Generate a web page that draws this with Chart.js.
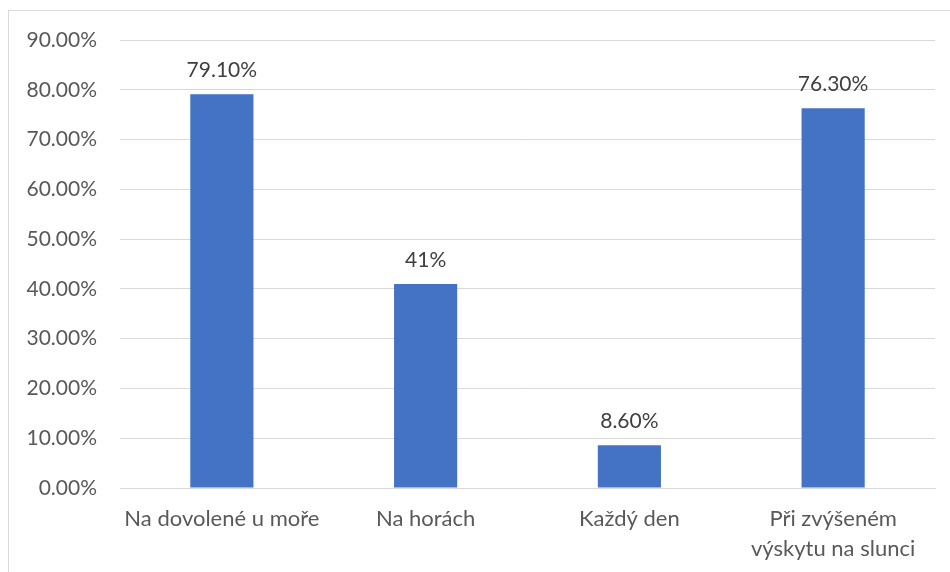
<!DOCTYPE html>
<html>
<head>
<meta charset="utf-8">
<script src="https://cdn.jsdelivr.net/npm/chart.js@4"></script>
<style>
html,body{margin:0;padding:0;background:#fff;}
#wrap{position:relative;width:950px;height:572px;}
#frame{position:absolute;left:8px;top:10px;right:0;bottom:0;border-left:1px solid #d9d9d9;border-top:1px solid #d9d9d9;}
canvas{position:absolute;left:0;top:0;}
</style>
</head>
<body>
<div id="wrap"><div id="frame"></div><canvas id="c" width="950" height="572"></canvas></div>
<script>
const categories = ["Na dovolené u moře", "Na horách", "Každý den", ["Při zvýšeném", "výskytu na slunci"]];
const values = [79.1, 41, 8.6, 76.3];
const valueLabels = ["79.10%", "41%", "8.60%", "76.30%"];
const yMax = 90;
const yStep = 10;

const FONT = "Lato, 'Open Sans', sans-serif";

const dataLabelPlugin = {
  id: 'dataLabels',
  afterDatasetsDraw(chart) {
    const ctx = chart.ctx;
    const meta = chart.getDatasetMeta(0);
    ctx.save();
    ctx.font = "21px " + FONT;
    ctx.fillStyle = "#404040";
    ctx.textAlign = "center";
    ctx.textBaseline = "middle";
    meta.data.forEach((bar, i) => {
      ctx.fillText(valueLabels[i], bar.x, bar.y - 24);
    });
    ctx.restore();
  }
};

new Chart(document.getElementById('c'), {
  type: 'bar',
  data: {
    labels: categories,
    datasets: [{
      data: values,
      backgroundColor: '#4472C4',
      borderWidth: 0,
      categoryPercentage: 1,
      barPercentage: 0.31
    }]
  },
  options: {
    responsive: false,
    animation: false,
    devicePixelRatio: 1,
    layout: { padding: { left: 0, right: 15, top: 40, bottom: 0 } },
    plugins: { legend: { display: false }, tooltip: { enabled: false } },
    scales: {
      y: {
        min: 0, max: yMax,
        ticks: {
          stepSize: yStep,
          padding: 23,
          color: '#595959',
          font: { family: FONT, size: 21 },
          callback: v => v.toFixed(2) + '%'
        },
        grid: { color: '#d9d9d9', lineWidth: 1, drawTicks: false },
        border: { display: false },
        afterFit(scale) { scale.width = 120; }
      },
      x: {
        ticks: {
          padding: 16,
          color: '#595959',
          font: { family: FONT, size: 22, lineHeight: 1.36 },
          maxRotation: 0, autoSkip: false
        },
        grid: { display: false, drawTicks: false },
        border: { display: true, color: '#d9d9d9' },
        afterFit(scale) { scale.height = 84; }
      }
    }
  },
  plugins: [dataLabelPlugin]
});
</script>
</body>
</html>
